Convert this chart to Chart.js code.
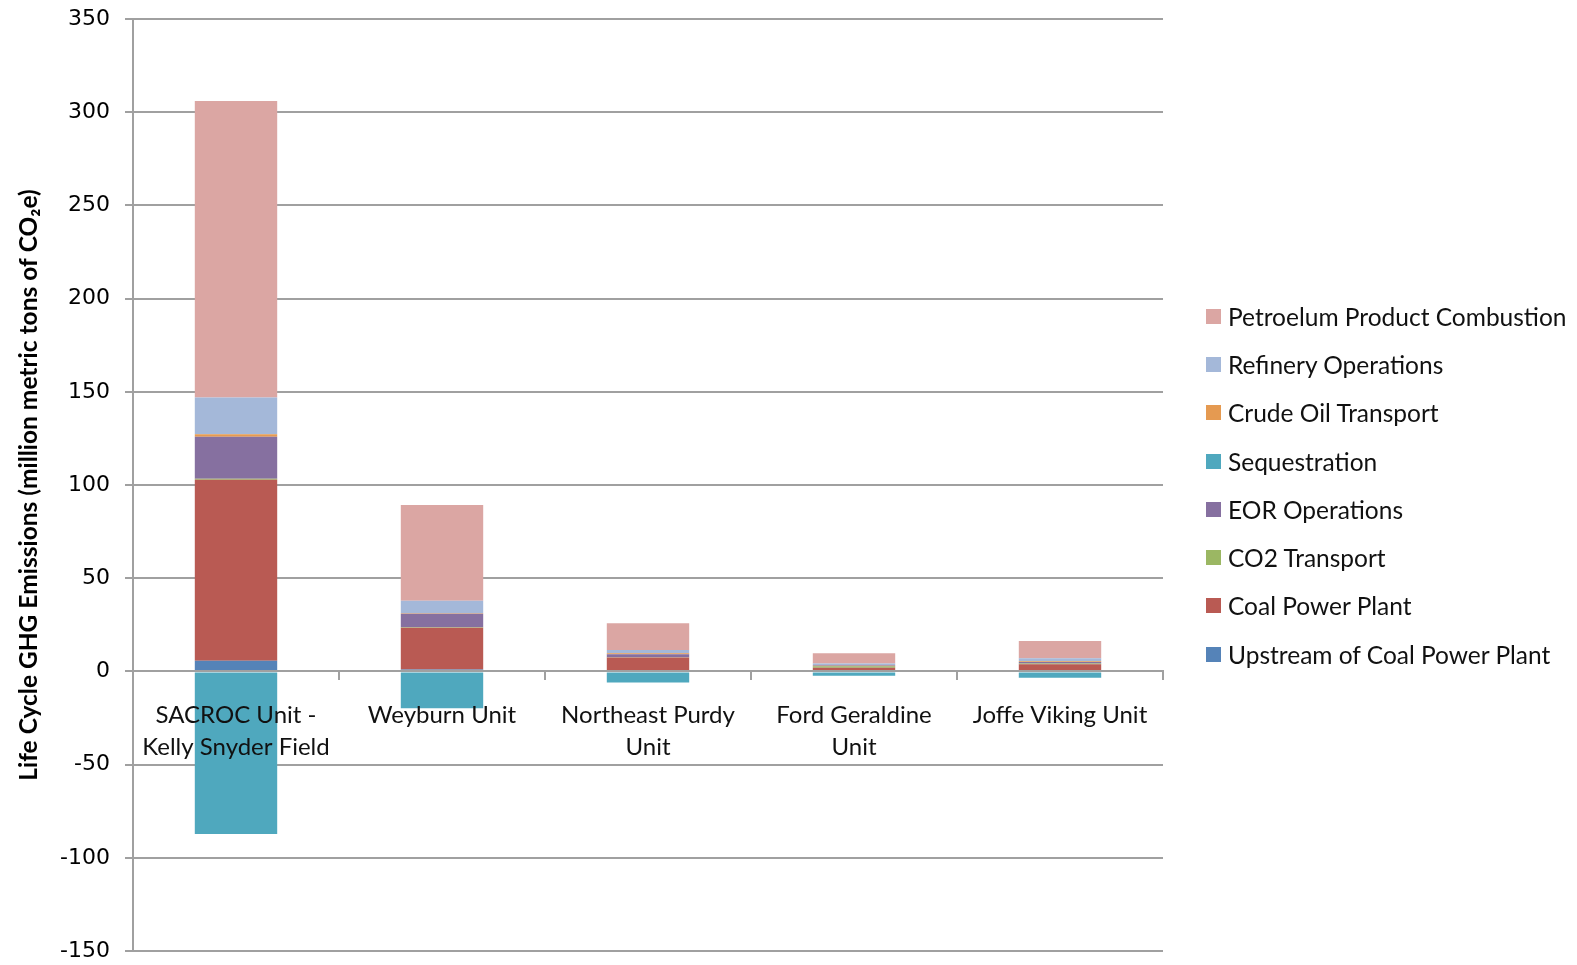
<!DOCTYPE html>
<html>
<head>
<meta charset="utf-8">
<script src="https://cdn.jsdelivr.net/npm/chart.js@4.4.1/dist/chart.umd.min.js"></script>
<style>
  html, body { margin: 0; padding: 0; background: #fff; }
  #wrap { position: relative; width: 1577px; height: 965px; }
  #legend { position: absolute; left: 1206px; top: 292px; font-family: Lato, "Open Sans", sans-serif; font-size: 24.5px; color: #111; }
  #legend .item { height: 48.3px; display: flex; align-items: center; white-space: nowrap; }
  #legend .box { width: 15px; height: 15px; margin-right: 7px; flex: none; }
</style>
</head>
<body>
<div id="wrap"><canvas id="myChart"></canvas><div id="legend"></div></div>
<script>
// categories (multi-line labels as arrays)
let fields = [['SACROC Unit -', 'Kelly Snyder Field'], 'Weyburn Unit', ['Northeast Purdy', 'Unit'], ['Ford Geraldine', 'Unit'], 'Joffe Viking Unit'];

// series, bottom of the stack first
let upstream       = [5.7, 1.0, 0.7, 0.3, 0.3];
let coalPlant      = [97.1, 22.4, 6.7, 1.7, 3.6];
let co2Transport   = [0.6, 0.3, 0.2, 0.8, 0.3];
let eorOps         = [22.5, 7.2, 1.6, 0.4, 0.9];
let sequestration  = [-87.2, -19.8, -5.9, -2.3, -3.4];
let crudeTransport = [1.3, 0.3, 0.5, 0.2, 0.3];
let refinery       = [19.8, 6.7, 1.8, 0.9, 1.6];
let petroleum      = [159.0, 51.4, 14.3, 5.4, 9.3];

let yTicks = [-150, -100, -50, 0, 50, 100, 150, 200, 250, 300, 350];

const gridGray = '#a0a0a0';
const labelFont = 'Lato, "Open Sans", sans-serif';

let ctx = document.getElementById('myChart');
let myChart = new Chart(ctx, {
    type: 'bar',
    data: {
        labels: fields,
        datasets: [
            { label: 'Upstream of Coal Power Plant', data: upstream, backgroundColor: '#5583b8' },
            { label: 'Coal Power Plant', data: coalPlant, backgroundColor: '#b95a53' },
            { label: 'CO2 Transport', data: co2Transport, backgroundColor: '#9bb763' },
            { label: 'EOR Operations', data: eorOps, backgroundColor: '#8670a0' },
            { label: 'Sequestration', data: sequestration, backgroundColor: '#4fa8be' },
            { label: 'Crude Oil Transport', data: crudeTransport, backgroundColor: '#e59a51' },
            { label: 'Refinery Operations', data: refinery, backgroundColor: '#a4b8d9' },
            { label: 'Petroelum Product Combustion', data: petroleum, backgroundColor: '#dba6a3' }
        ]
    },
    options: {
        responsive: true,
        maintainAspectRatio: false,
        animation: false,
        layout: { padding: { left: 0, right: 414, top: 19, bottom: 14 } },
        datasets: {
            bar: { categoryPercentage: 1, barPercentage: 0.4, borderWidth: 0 }
        },
        plugins: {
            tooltip: { enabled: false },
            legend: { display: false }
        },
        scales: {
            x: {
                stacked: true,
                position: { y: 0 },
                // zero line, tick marks and labels sit over the bars
                grid: {
                    z: 1,
                    offset: true,
                    drawOnChartArea: false,
                    drawTicks: true,
                    tickLength: 8,
                    color: gridGray,
                    lineWidth: 2
                },
                border: { display: true, color: gridGray, width: 2, z: 1 },
                ticks: {
                    z: 1,
                    color: '#111',
                    padding: 20,
                    maxRotation: 0,
                    autoSkip: false,
                    font: { family: labelFont, size: 24, lineHeight: 1.33 }
                }
            },
            y: {
                stacked: true,
                min: -150,
                max: 350,
                afterFit: function (scale) { scale.width = 133; },
                afterBuildTicks: function (scale) {
                    scale.ticks = yTicks.map(v => ({ value: v }));
                },
                grid: {
                    color: gridGray,
                    lineWidth: 2,
                    drawTicks: true,
                    tickLength: 8
                },
                border: { display: true, color: gridGray, width: 2 },
                ticks: {
                    color: '#000',
                    padding: 8,
                    callback: v => v + ' ',
                    font: { family: '"DejaVu Sans", Verdana, sans-serif', size: 22, lineHeight: 0.1 }
                },
                title: {
                    display: true,
                    text: 'Life Cycle GHG Emissions (million metric tons of CO₂e)',
                    color: '#000',
                    padding: { top: 14, bottom: 0 },
                    font: { family: labelFont, size: 24.5, weight: 'bold' }
                }
            }
        }
    }
});

// legend, top entry = top of the stack
let legendDiv = document.getElementById('legend');
myChart.data.datasets.slice().reverse().forEach(ds => {
    let item = document.createElement('div');
    item.className = 'item';
    let box = document.createElement('span');
    box.className = 'box';
    box.style.background = ds.backgroundColor;
    let txt = document.createElement('span');
    txt.textContent = ds.label;
    item.appendChild(box);
    item.appendChild(txt);
    legendDiv.appendChild(item);
});
</script>
</body>
</html>
